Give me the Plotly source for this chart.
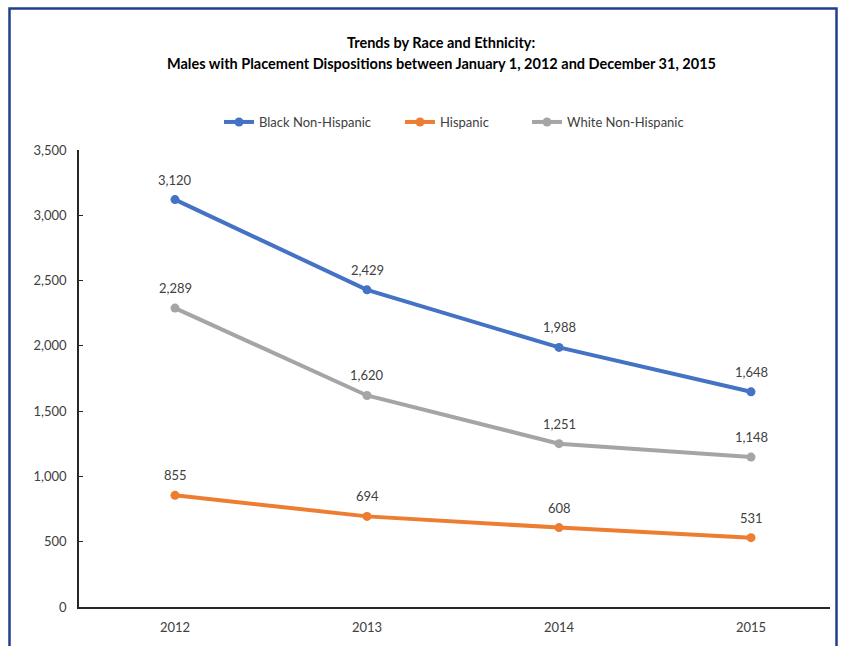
import plotly.graph_objects as go

# Calendar years on the x axis
years = [2012, 2013, 2014, 2015]
year_labels = ["2012", "2013", "2014", "2015"]

# Male placement dispositions by race / ethnicity
black_non_hispanic = [3120, 2429, 1988, 1648]
hispanic = [855, 694, 608, 531]
white_non_hispanic = [2289, 1620, 1251, 1148]

# Y-axis ticks
y_ticks = [0, 500, 1000, 1500, 2000, 2500, 3000, 3500]
y_tick_labels = ["0", "500", "1,000", "1,500", "2,000", "2,500", "3,000", "3,500"]

FONT = "Lato, 'Open Sans', sans-serif"
TEXT_COLOR = "#404040"

# Plot area in pixels: left 79, right 830, top 150, bottom 607
W, H = 841, 646
L, R, T, B = 79, 830, 150, 607
pw, ph = R - L, B - T


def px_x(x):
    return (x - L) / pw


def px_y(y):
    return (B - y) / ph


# name, values, colour, legend id, left edge of legend entry (px)
series = [
    ("Black Non-Hispanic", black_non_hispanic, "#4472C4", "legend", 219),
    ("Hispanic", hispanic, "#ED7D31", "legend2", 400),
    ("White Non-Hispanic", white_non_hispanic, "#A5A5A5", "legend3", 527),
]

fig = go.Figure()
legend_layouts = {}
value_labels = []
for name, values, color, leg, leg_x in series:
    fig.add_trace(go.Scatter(
        x=years,
        y=values,
        name=name,
        legend=leg,
        mode="lines+markers",
        line=dict(color=color, width=4),
        marker=dict(color=color, size=9),
        cliponaxis=False,
    ))
    legend_layouts[leg] = dict(
        orientation="h",
        x=px_x(leg_x),
        xanchor="left",
        y=px_y(122),
        yanchor="middle",
        bgcolor="rgba(0,0,0,0)",
        font=dict(family=FONT, size=13, color=TEXT_COLOR),
        itemwidth=30,
    )
    # value label above each point
    for yr, v in zip(years, values):
        value_labels.append(dict(
            x=yr, y=v, xref="x", yref="y",
            text=f"{v:,}",
            showarrow=False,
            xanchor="center", yanchor="middle",
            yshift=20,
            font=dict(family=FONT, size=13, color=TEXT_COLOR),
        ))

titles = [
    dict(
        text="<b>Trends by Race and Ethnicity:</b>",
        x=px_x(441), y=px_y(42),
        xref="paper", yref="paper",
        xanchor="center", yanchor="middle",
        showarrow=False,
        font=dict(family=FONT, size=14.5, color="#000000"),
    ),
    dict(
        text="<b>Males with Placement Dispositions between January 1, 2012 and December 31, 2015</b>",
        x=px_x(441), y=px_y(63),
        xref="paper", yref="paper",
        xanchor="center", yanchor="middle",
        showarrow=False,
        font=dict(family=FONT, size=14.5, color="#000000"),
    ),
]

fig.update_layout(
    width=W,
    height=H,
    margin=dict(l=L, r=W - R, t=T, b=H - B, pad=0),
    paper_bgcolor="white",
    plot_bgcolor="white",
    font=dict(family=FONT, size=13, color=TEXT_COLOR),
    showlegend=True,
    annotations=titles + value_labels,
    shapes=[
        # outer frame around the chart
        dict(
            type="rect",
            xref="paper", yref="paper",
            x0=px_x(9.5), x1=px_x(836.5),
            y0=px_y(660), y1=px_y(8.5),
            line=dict(color="#1F3F8F", width=2.5),
            fillcolor="rgba(0,0,0,0)",
            layer="above",
        ),
    ],
    **legend_layouts,
)

fig.update_xaxes(
    range=[2011.5, 2015 + (R - 751) / 192],
    tickmode="array",
    tickvals=years,
    ticktext=year_labels,
    showgrid=False,
    zeroline=False,
    showline=True,
    linecolor="#262626",
    linewidth=1.5,
    ticks="",
    tickfont=dict(family=FONT, size=13, color=TEXT_COLOR),
    ticklabelstandoff=8,
    fixedrange=True,
)

fig.update_yaxes(
    range=[0, 3500],
    tickmode="array",
    tickvals=y_ticks,
    ticktext=y_tick_labels,
    showgrid=False,
    zeroline=False,
    showline=True,
    linecolor="#262626",
    linewidth=1.5,
    ticks="inside",
    ticklen=4,
    tickcolor="#262626",
    tickfont=dict(family=FONT, size=13, color=TEXT_COLOR),
    ticklabelstandoff=8,
    fixedrange=True,
)

fig.write_html("out.html")
